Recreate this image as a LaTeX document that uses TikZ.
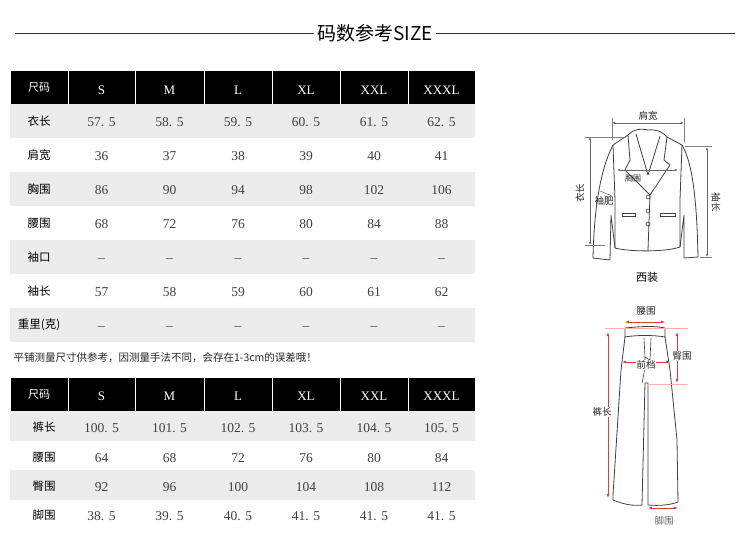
\documentclass[tikz,border=0pt]{standalone}
\usepackage{fontspec}
\setmainfont{Liberation Serif}
\newfontfamily\cjk{Noto Sans CJK SC}
\usetikzlibrary{arrows.meta}
\definecolor{rowgray}{RGB}{236,236,236}
\definecolor{dimred}{RGB}{225,60,60}
\tikzset{
  hdr/.style={fill=black,draw=white,line width=1pt},
  grayrow/.style={fill=rowgray},
  htxt/.style={text=white,font=\fontsize{13}{13}\selectfont},
  hlab/.style={text=white,font=\cjk\fontsize{11}{11}\selectfont},
  vtxt/.style={text=black!75,font=\fontsize{13.5}{13.5}\selectfont},
  rlab/.style={font=\cjk\fontsize{11.5}{11.5}\selectfont},
  outline/.style={draw=black!75,line width=0.8pt,line join=round},
  dim/.style={draw=black!60,line width=0.6pt,{Latex[length=3pt]}-{Latex[length=3pt]}},
  rdim/.style={draw=dimred,line width=0.8pt,{Latex[length=4pt]}-{Latex[length=4pt]}},
  small/.style={font=\cjk\fontsize{9.5}{9.5}\selectfont,text=black!85},
}
\begin{document}
\begin{tikzpicture}[x=1pt,y=-1pt]
\useasboundingbox[fill=white] (0,0) rectangle (750,533);
% title
\node[font=\cjk\fontsize{19}{19}\selectfont] (title) at (375,33) {码数参考SIZE};
\draw[black!80,line width=0.8pt] (15,33) -- (title.west);
\draw[black!80,line width=0.8pt] (title.east) -- (735,33);

% ===== table 1 =====
\def\xs{{10,68,135,204,272,340,408,475}}
\draw[hdr] (10,70) rectangle (68,104);
\node[hlab] (h1t0) at (39,88) {尺码};
\foreach \t [count=\i] in {S,M,L,XL,XXL,XXXL}{
  \pgfmathsetmacro{\xa}{\xs[\i]}\pgfmathsetmacro{\xb}{\xs[\i+1]}
  \draw[hdr] (\xa,70) rectangle (\xb,104);
  \node[htxt] (h1t\i) at ({(\xa+\xb)/2},90) {\t};
}
\foreach \r in {0,2,4,6}{\fill[grayrow] (10,104+34*\r) rectangle (475,138+34*\r);}
\foreach \lab/\vals [count=\r from 0] in {
  衣长/{57. 5,58. 5,59. 5,60. 5,61. 5,62. 5},
  肩宽/{36,37,38,39,40,41},
  胸围/{86,90,94,98,102,106},
  腰围/{68,72,76,80,84,88},
  袖口/{\_,\_,\_,\_,\_,\_},
  袖长/{57,58,59,60,61,62},
  重里(克)/{\_,\_,\_,\_,\_,\_}}{
  \node[rlab] (a\r) at (39,121+34*\r) {\lab};
  \foreach \v [count=\c] in \vals {
    \pgfmathsetmacro{\xa}{\xs[\c]}\pgfmathsetmacro{\xb}{\xs[\c+1]}
    \node[vtxt] (a\r c\c) at ({(\xa+\xb)/2},122+34*\r) {\v};
  }
}
\node[font=\cjk\fontsize{10.5}{10.5}\selectfont,anchor=west,text=black!85] (note) at (10,358) {平铺测量尺寸供参考，因测量手法不同，会存在1-3cm的误差哦！};

% ===== table 2 =====
\draw[hdr] (10,377) rectangle (68,411);
\node[hlab] (h2t0) at (39,395) {尺码};
\foreach \t [count=\i] in {S,M,L,XL,XXL,XXXL}{
  \pgfmathsetmacro{\xa}{\xs[\i]}\pgfmathsetmacro{\xb}{\xs[\i+1]}
  \draw[hdr] (\xa,377) rectangle (\xb,411);
  \node[htxt] (h2t\i) at ({(\xa+\xb)/2},396) {\t};
}
\fill[grayrow] (10,411) rectangle (475,441);
\fill[grayrow] (10,470) rectangle (475,500);
\foreach \lab/\vals/\y [count=\r from 0] in {
  裤长/{100. 5,101. 5,102. 5,103. 5,104. 5,105. 5}/427,
  腰围/{64,68,72,76,80,84}/457,
  臀围/{92,96,100,104,108,112}/486,
  脚围/{38. 5,39. 5,40. 5,41. 5,41. 5,41. 5}/515}{
  \node[rlab] (b\r) at (44,\y) {\lab};
  \foreach \v [count=\c] in \vals {
    \pgfmathsetmacro{\xa}{\xs[\c]}\pgfmathsetmacro{\xb}{\xs[\c+1]}
    \node[vtxt] (b\r c\c) at ({(\xa+\xb)/2},\y+1) {\v};
  }
}

% ===== jacket =====
\draw[outline] (628,135) -- (613,145) .. controls (600,170) and (594,210) .. (593,258)
  -- (610,260) -- (611,215) -- (615,248)
  .. controls (630,252) and (666,252) .. (680,247) -- (684,215) -- (684,258) -- (698,257)
  .. controls (697,210) and (694,165) .. (682,145) -- (667,137);
\draw[outline] (628,135) .. controls (632,130) and (640,128) .. (648,130) .. controls (656,129) and (663,132) .. (667,137);
\draw[outline] (628,135) -- (630,160) -- (625,170) -- (650,195) -- (670,165) -- (664,160) -- (667,137);
\draw[outline] (636,134) -- (648,175) -- (660,136);
\draw[outline] (613,145) -- (615,200) -- (615,248);
\draw[outline] (682,145) -- (680,200) -- (680,247);
\draw[outline] (650,195) -- (648,250);
\foreach \yy [count=\k] in {197,211,224}{\draw[outline,line width=0.6pt] (648,\yy) circle (2pt) coordinate (btn\k);}
\draw[outline,line width=0.6pt] (622,213) rectangle (635,216);
\draw[outline,line width=0.6pt] (660,213) rectangle (675,216);
% jacket dims
\coordinate (sw1) at (612,123); \coordinate (sw2) at (684,123);
\draw[dim] (sw1) -- (sw2);
\draw[black!50,line width=0.4pt] (612,118) -- (612,140) (684,118) -- (684,142);
\node[small,fill=white,inner sep=1pt] (jkw) at (648,116) {肩宽};
\coordinate (jl1) at (590,137); \coordinate (jl2) at (590,245);
\draw[dim] (jl1) -- (jl2);
\draw[black!50,line width=0.4pt] (585,137) -- (626,137) (585,245) -- (605,245);
\node[small,rotate=90] (jkl) at (580,193) {衣长};
\coordinate (sl1) at (707,147); \coordinate (sl2) at (707,257);
\draw[dim] (sl1) -- (sl2);
\draw[black!50,line width=0.4pt] (685,146) -- (712,146) (700,257) -- (712,257);
\node[small,rotate=-90] (jsl) at (716,202) {袖长};
\coordinate (ch1) at (617,170); \coordinate (ch2) at (678,170);
\draw[dim] (ch1) -- (ch2);
\node[small,font=\cjk\fontsize{8}{8}\selectfont] (jch) at (633,178) {胸围};
\node[small] (jsf) at (604,201) {袖肥};
\draw[black!60,line width=0.5pt] (600,191) -- (612,196);
\node[font=\cjk\fontsize{11}{11}\selectfont] (xz) at (647,277) {西装};

% ===== trousers =====
\draw[outline] (625,328) .. controls (645,326) and (655,326) .. (665,328) -- (665,337) .. controls (655,335) and (635,335) .. (625,337) -- cycle;
\draw[outline] (625,337) -- (621,370) -- (613,495) -- (613,500)
  .. controls (625,505) and (635,506) .. (642,505) -- (645,383) -- (648,383) -- (648,505)
  .. controls (660,506) and (670,505) .. (678,502) -- (677,440) -- (670,370) -- (665,337);
\draw[outline,line width=0.6pt] (644,338) -- (645,357) -- (650,360) -- (651,338);
\draw[outline,line width=0.6pt] (642,383) .. controls (645,370) and (645,365) .. (645,357);
% trousers dims
\draw[dimred!40,line width=0.4pt] (605,328) -- (688,328);
\draw[dimred!40,line width=0.4pt] (647,384) -- (687,384);
\coordinate (tw1) at (625,322); \coordinate (tw2) at (665,322);
\draw[rdim] (tw1) -- (tw2);
\node[small,fill=white,inner sep=1pt] (tw) at (646,311) {腰围};
\coordinate (th1) at (677,332); \coordinate (th2) at (677,383);
\draw[rdim] (th1) -- (th2);
\node[small,fill=white,inner sep=1pt] (th) at (682,356) {臀围};
\coordinate (tf1) at (622,362); \coordinate (tf2) at (670,362);
\draw[rdim] (tf1) -- (tf2);
\node[small,fill=white,inner sep=0.5pt] (tf) at (646,365) {前档};
\coordinate (tl1) at (608,332); \coordinate (tl2) at (608,498);
\draw[rdim] (tl1) -- (tl2);
\node[small,fill=white,inner sep=1pt] (tl) at (602,412) {裤长};
\coordinate (tj1) at (648,508); \coordinate (tj2) at (678,508);
\draw[rdim] (tj1) -- (tj2);
\node[small,text=black!60] (tj) at (664,521) {脚围};
\end{tikzpicture}
\end{document}
